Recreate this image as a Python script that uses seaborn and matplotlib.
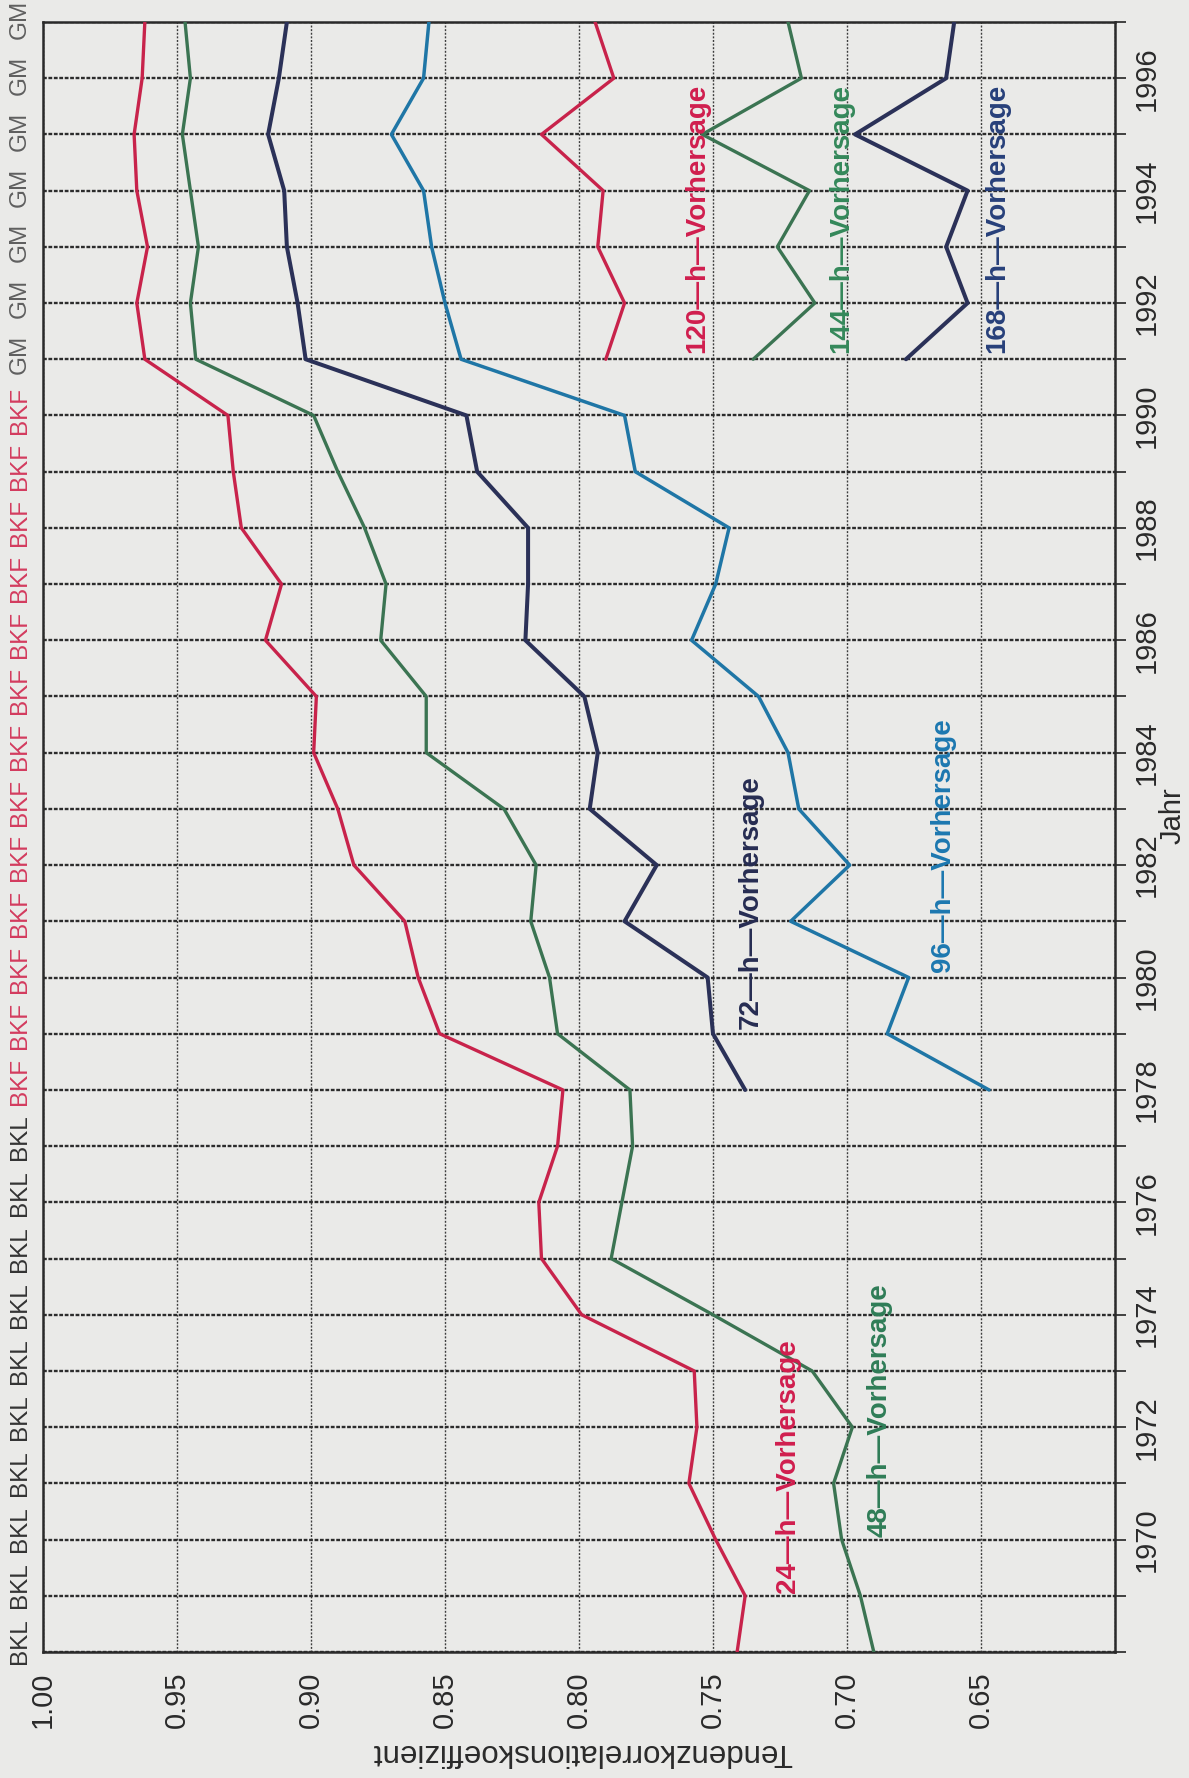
import matplotlib
matplotlib.use("Agg")
import matplotlib.pyplot as plt
import matplotlib.transforms as mtransforms
import numpy as np
import pandas as pd
import seaborn as sns

# ---------------- data ----------------
years_all = list(range(1968, 1998))
years_bkf = list(range(1978, 1998))
years_gm = list(range(1991, 1998))

h24 = [0.741, 0.738, 0.749, 0.759, 0.756, 0.757, 0.799, 0.814, 0.815, 0.808,
       0.806, 0.852, 0.860, 0.865, 0.884, 0.890, 0.899, 0.898, 0.917, 0.911,
       0.926, 0.929, 0.931, 0.962, 0.965, 0.961, 0.965, 0.966, 0.963, 0.962]
h48 = [0.690, 0.695, 0.702, 0.705, 0.698, 0.713, 0.750, 0.788, 0.784, 0.780,
       0.781, 0.808, 0.811, 0.818, 0.816, 0.828, 0.857, 0.857, 0.874, 0.872,
       0.880, 0.890, 0.899, 0.943, 0.945, 0.942, 0.945, 0.948, 0.945, 0.947]
h72 = [0.738, 0.750, 0.752, 0.783, 0.771, 0.796, 0.793, 0.798, 0.820, 0.819,
       0.819, 0.838, 0.842, 0.902, 0.905, 0.909, 0.910, 0.916, 0.912, 0.909]
h96 = [0.647, 0.685, 0.677, 0.721, 0.699, 0.718, 0.722, 0.733, 0.758, 0.749,
       0.744, 0.779, 0.783, 0.844, 0.850, 0.855, 0.858, 0.870, 0.858, 0.856]
h120 = [0.790, 0.783, 0.793, 0.791, 0.814, 0.787, 0.794]
h144 = [0.735, 0.712, 0.726, 0.714, 0.754, 0.717, 0.722]
h168 = [0.678, 0.655, 0.663, 0.655, 0.697, 0.663, 0.660]

series_names = ["24", "48", "72", "96", "120", "144", "168"]
series_labels = ["24\u2014h\u2014Vorhersage", "48\u2014h\u2014Vorhersage",
                 "72\u2014h\u2014Vorhersage", "96\u2014h\u2014Vorhersage",
                 "120\u2014h\u2014Vorhersage", "144\u2014h\u2014Vorhersage",
                 "168\u2014h\u2014Vorhersage"]

model_labels = ["BKL"] * 10 + ["BKF"] * 13 + ["GM"] * 7

x_ticks = [1.00, 0.95, 0.90, 0.85, 0.80, 0.75, 0.70, 0.65, 0.60]
x_ticklabels = ["1.00", "0.95", "0.90", "0.85", "0.80", "0.75", "0.70", "0.65", ""]
year_ticklabels = [str(y) if (y % 2 == 0 and 1970 <= y <= 1996) else "" for y in years_all]

# ---------------- styling ----------------
sns.set_theme(style="white")
plt.rcParams["font.family"] = ["Liberation Sans", "DejaVu Sans"]

bg = "#eaeae8"
colors = {"24": "#c8234b", "48": "#3b7452", "72": "#2b3158", "96": "#1f76a6",
          "120": "#c8234b", "144": "#3b7452", "168": "#2b3158"}
widths = {"24": 2.4, "48": 2.4, "72": 2.9, "96": 2.5,
          "120": 2.4, "144": 2.4, "168": 2.9}
label_colors = {"24": "#d01e4e", "48": "#2f7d57", "72": "#262c52", "96": "#1c78b0",
                "120": "#d01e4e", "144": "#34885a", "168": "#27407a"}
label_pos = {"24": (0.722, 1971.3), "48": (0.688, 1972.3), "72": (0.736, 1981.35),
             "96": (0.664, 1982.35), "120": (0.756, 1993.5), "144": (0.702, 1993.5),
             "168": (0.644, 1993.5)}
model_colors = {"BKL": "#333333", "BKF": "#d33b5e", "GM": "#5f5f5f"}

rows = []
for name, yrs, vals in [("24", years_all, h24), ("48", years_all, h48),
                        ("72", years_bkf, h72), ("96", years_bkf, h96),
                        ("120", years_gm, h120), ("144", years_gm, h144),
                        ("168", years_gm, h168)]:
    for y, v in zip(yrs, vals):
        rows.append({"series": name, "year": y, "value": v})
df = pd.DataFrame(rows)

W, H = 1189, 1778
fig = plt.figure(figsize=(W / 100, H / 100), dpi=100, facecolor=bg)
left, right, top, bottom = 43, 1115, 22, 1652
ax = fig.add_axes([left / W, 1 - bottom / H, (right - left) / W, (bottom - top) / H])
ax.set_facecolor(bg)

for name in series_names:
    sub = df[df["series"] == name]
    sns.lineplot(data=sub, x="value", y="year", orient="y", sort=False,
                 estimator=None, color=colors[name], linewidth=widths[name],
                 ax=ax, legend=False, zorder=3)

ax.set_xlim(1.00, 0.60)
ax.set_ylim(1968, 1997)

ax.set_xticks(x_ticks)
ax.set_xticklabels(x_ticklabels, rotation=90, fontsize=21, color="#2a2a2a")
ax.set_yticks(years_all)
ax.set_yticklabels(year_ticklabels, rotation=90, fontsize=21, color="#2a2a2a",
                   va="center")
ax.yaxis.tick_right()
ax.tick_params(axis="x", direction="out", length=8, width=1.3, color="#333", pad=6)
ax.tick_params(axis="y", direction="out", length=8, width=1.3, color="#333", pad=5,
               left=False, right=True)

ax.grid(True, axis="y", color="#2c2c2c", linestyle=(0, (1.6, 0.7)), linewidth=1.7, zorder=1)
ax.grid(True, axis="x", color="#3c3c3c", linestyle=(0, (1.4, 1.2)), linewidth=1.0, zorder=1)
ax.set_axisbelow(True)
for s in ax.spines.values():
    s.set_color("#2a2a2a")
    s.set_linewidth(1.8)

ax.set_xlabel("")
ax.set_ylabel("")

# series labels
for name, lbl in zip(series_names, series_labels):
    vx, vy = label_pos[name]
    ax.text(vx, vy, lbl, rotation=90, ha="center", va="center", fontsize=20,
            fontweight="bold", color=label_colors[name], zorder=4)

# model labels along the left edge
trans = mtransforms.blended_transform_factory(fig.transFigure, ax.transData)
for y, m in zip(years_all, model_labels):
    off = 0.2 - 0.15 * (y - 1968) / 29.0
    fig.text(20 / W, y + off, m, rotation=90, ha="center", va="center",
             fontsize=17.5, color=model_colors[m], transform=trans)

# axis titles (rotated chart)
fig.text(582 / W, 1 - 1752 / H, "Tendenzkorrelationskoeffizient", rotation=180,
         ha="center", va="center", fontsize=22.5, color="#2a2a2a")
fig.text(1173 / W, 1 - 816 / H, "Jahr", rotation=90, ha="center", va="center",
         fontsize=21, color="#2a2a2a")

fig.savefig("out.png", dpi=100, facecolor=bg)
